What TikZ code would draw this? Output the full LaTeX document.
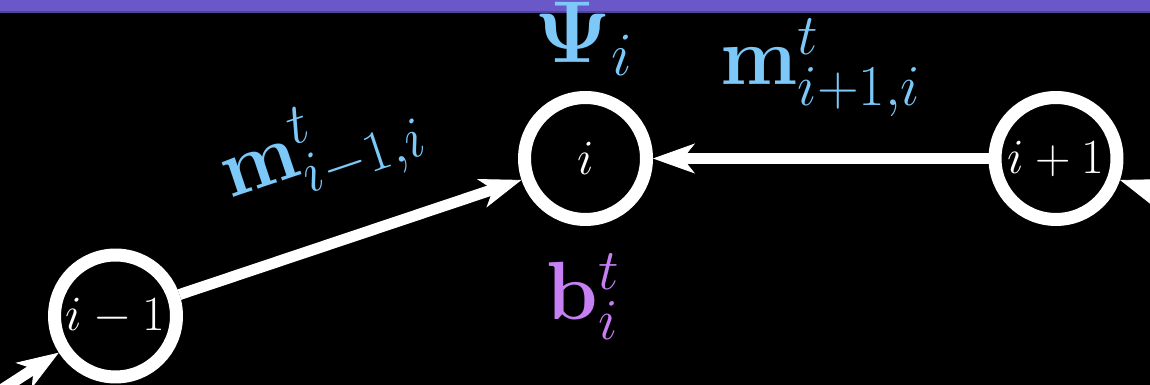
\RequirePackage{fix-cm}
\documentclass[tikz,border=0pt]{standalone}
\usepackage{tikz}
\usetikzlibrary{arrows.meta,positioning}

\definecolor{barviolet}{HTML}{6A58C8}
\definecolor{msgblue}{HTML}{7CC8F8}
\definecolor{beliefpurple}{HTML}{C680F4}

\begin{document}
\begin{tikzpicture}[
    x=0.02cm, y=0.02cm,
    agent/.style={circle, draw=white, line width=0.26cm, minimum size=2.44cm, inner sep=0pt, text=white, font=\fontsize{28}{32}\selectfont},
    msg/.style={text=msgblue, inner sep=2pt, font=\fontsize{47}{54}\selectfont},
    blf/.style={text=beliefpurple, inner sep=2pt, font=\fontsize{47}{54}\selectfont},
    arr/.style={draw=white, line width=0.22cm, -{Stealth[length=0.84cm, width=0.6cm, inset=0.24cm, line width=0.5pt]}}
  ]
    \fill[black] (0,0) rectangle (1150,385);
    \useasboundingbox (0,0) rectangle (1150,385);
    \clip (0,0) rectangle (1150,385);
    \fill[barviolet] (0,373) rectangle (1150,385);
    \draw[barviolet!75!black, line width=1pt] (0,373) -- (1150,373);

    \node[agent] (prev) at (115.5,69) {$i-1$};
    \node[agent] (cur) at (585.5,226.5) {$i$};
    \node[agent] (next) at (1056,226.5) {$i+1$};
    \coordinate (prevprev) at (-220,-148);
    \coordinate (nextnext) at (1525,69);

    \draw[arr] (prevprev) -- (prev);
    \draw[arr] (nextnext) -- (next);
    \draw[arr] (prev) -- node[msg, midway, sloped, above=0.68cm] (mprev) {$\mathbf{m}^t_{i-1,i}$} (cur);
    \draw[arr] (next) -- node[msg, midway, above=0.66cm] (mnext) {$\mathbf{m}^t_{i+1,i}$} (cur);

    \node[msg, font=\fontsize{50}{58}\selectfont] (psi) at (584,346) {$\mathbf{\Psi}_i$};
    \node[blf] (belief) at (583,88) {$\mathbf{b}^t_i$};
  \end{tikzpicture}
\end{document}
